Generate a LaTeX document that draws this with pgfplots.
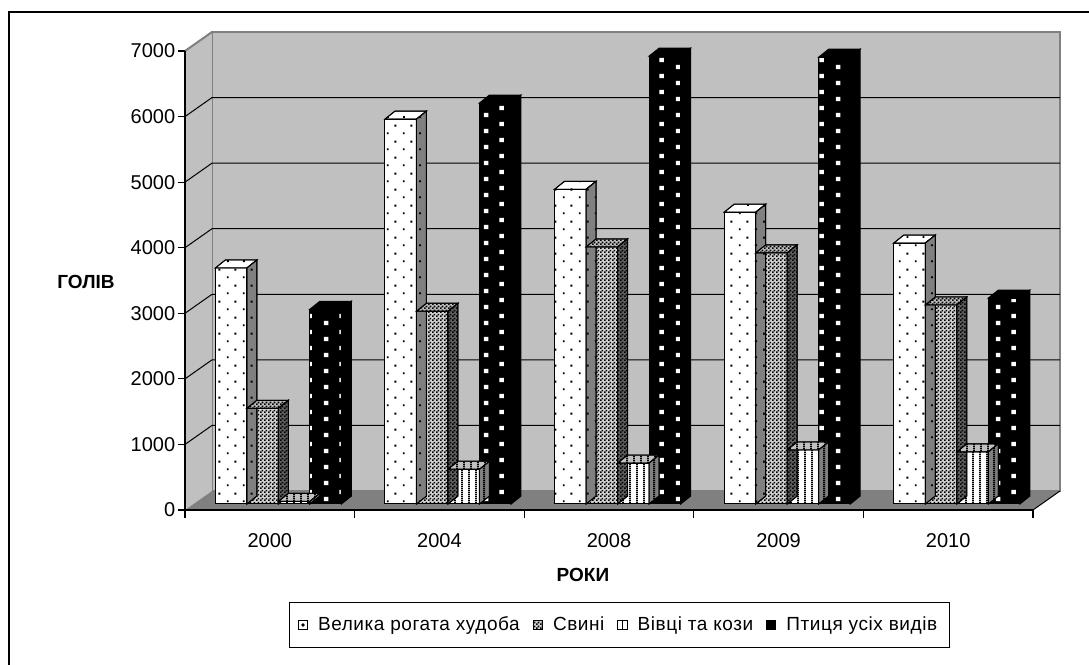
\documentclass[border=0pt]{standalone}
\usepackage{pgfplots}
\usepackage{pgfplotstable}
\pgfplotsset{compat=1.18}
\usetikzlibrary{patterns,patterns.meta}
\usepackage{fontspec}
\setmainfont{Liberation Sans}

\definecolor{wallc}{HTML}{C0C0C0}
\definecolor{floorc}{HTML}{808080}
\definecolor{edgec}{HTML}{808080}
\definecolor{darkc}{HTML}{606060}

\tikzdeclarepattern{name=sdots, bounding box={(0pt,0pt) and (8pt,8pt)}, tile size={(8pt,8pt)},
  code={\fill (1.5pt,1.5pt) rectangle (2.5pt,2.5pt); \fill (5.5pt,5.5pt) rectangle (6.5pt,6.5pt);}}
\tikzdeclarepattern{name=checker, bounding box={(0pt,0pt) and (2pt,2pt)}, tile size={(2pt,2pt)},
  code={\fill (0pt,0pt) rectangle (1pt,1pt); \fill (1pt,1pt) rectangle (2pt,2pt);}}
\tikzdeclarepattern{name=vstripes, bounding box={(0pt,0pt) and (3.4pt,1pt)}, tile size={(3.4pt,1pt)},
  code={\fill (0pt,0pt) rectangle (1pt,1pt);}}
\tikzdeclarepattern{name=wsq, bounding box={(0pt,0pt) and (16pt,8pt)}, tile size={(16pt,8pt)},
  code={\fill (2pt,2pt) rectangle (4.3pt,4.3pt); \fill (10pt,5.7pt) rectangle (12.3pt,8pt);}}

\tikzset{
  bx/.style={draw=black, line width=0.5pt},
  velF/.style={bx, preaction={fill=white}, pattern=sdots, pattern color=black},
  velT/.style={bx, preaction={fill=white}, pattern=sdots, pattern color=black},
  velS/.style={bx, preaction={fill=floorc}, pattern=sdots, pattern color=black},
  svyF/.style={bx, preaction={fill=white!82!black}, pattern=checker, pattern color=black},
  svyT/.style={bx, preaction={fill=wallc}, pattern=checker, pattern color=black},
  svyS/.style={bx, preaction={fill=darkc}, pattern=checker, pattern color=black},
  vivF/.style={bx, preaction={fill=white}, pattern=vstripes, pattern color=black},
  vivT/.style={bx, preaction={fill=wallc}, pattern=vstripes, pattern color=black},
  vivS/.style={bx, preaction={fill=floorc}, pattern=vstripes, pattern color=black},
  ptyF/.style={bx, preaction={fill=black}, pattern=wsq, pattern color=white},
  ptyT/.style={bx, fill=black},
  ptyS/.style={bx, fill=black},
}

% 3D top and side faces drawn at each data point (top centre of the bar front)
\newcommand\declbox[3]{%
  \pgfdeclareplotmark{#1}{%
    \pgfmathsetmacro\hb{4-\rawy*0.0327857}%
    \pgfmathsetmacro\hf{-\rawy*0.0327857}%
    \path[#2] (-7.875pt,0pt) -- (7.875pt,0pt) -- (12.875pt,4pt) -- (-2.875pt,4pt) -- cycle;
    \path[#3] (7.875pt,0pt) -- (12.875pt,4pt) -- (12.875pt,\hb pt) -- (7.875pt,\hf pt) -- cycle;
  }}
\declbox{velbox}{velT}{velS}
\declbox{svybox}{svyT}{svyS}
\declbox{vivbox}{vivT}{vivS}
\declbox{ptybox}{ptyT}{ptyS}

\pgfplotstableread{
x vel svy viv pty
0 3600 1460 40 2970
1 5870 2940 530 6115
2 4800 3920 625 6830
3 4450 3830 825 6815
4 3980 3035 795 3140
}\data

\begin{document}
\begin{tikzpicture}
\path[use as bounding box] (0,0) rectangle (544.5pt,332.5pt);
\draw[line width=1pt] (4.5pt,-10pt) rectangle (560pt,326.5pt);
\begin{axis}[
  at={(92.5pt,77.5pt)}, anchor=south west,
  scale only axis, width=424pt, height=229.5pt,
  xmin=-0.5, xmax=4.5, ymin=0, ymax=7000,
  clip=false, axis on top,
  axis x line*=bottom, axis y line*=left,
  x axis line style={line width=1pt},
  y axis line style={line width=0.6pt},
  xtick={0,1,2,3,4}, xticklabels={2000,2004,2008,2009,2010},
  xtick style={draw=none},
  extra x ticks={-0.5,0.5,1.5,2.5,3.5,4.5},
  extra x tick labels={},
  extra x tick style={major tick length=4pt, xtick style={draw=black, line width=0.6pt}},
  ytick={0,1000,...,7000},
  ytick style={draw=black, line width=0.6pt},
  tick align=outside, major tick length=3.5pt,
  scaled y ticks=false,
  /pgf/number format/.cd, 1000 sep={}, assume math mode=true, /pgfplots/.cd,
  tick label style={font=\fontsize{10}{12}\selectfont},
  yticklabel style={inner sep=1.2pt},
  xticklabel style={yshift=-4.5pt},
  xlabel={РОКИ}, ylabel={ГОЛІВ},
  x label style={at={(axis description cs:0.4693,-0.142)}, anchor=center, font=\fontsize{9.5}{11}\selectfont\bfseries},
  y label style={at={(axis description cs:-0.1167,0.4967)}, anchor=center, rotate=-90, font=\fontsize{9.5}{11}\selectfont\bfseries},
  legend style={at={(axis description cs:0.5124,-0.2505)}, anchor=center, legend columns=4,
    draw=black, line width=0.5pt, inner ysep=5pt, inner xsep=4pt,
    font=\fontsize{9.5}{11}\selectfont\addfontfeature{LetterSpace=3},
    /tikz/every odd column/.append style={column sep=3pt},
    /tikz/every even column/.append style={column sep=4.5pt}},
]
% back wall
\path[fill=wallc, draw=edgec, line width=1pt] ([xshift=13.5pt,yshift=9.5pt]axis cs:-0.5,0) rectangle ([xshift=13.5pt,yshift=9.5pt]axis cs:4.5,7000);
% left wall
\path[fill=wallc] (axis cs:-0.5,0) -- (axis cs:-0.5,7000) -- ([xshift=13.5pt,yshift=9.5pt]axis cs:-0.5,7000) -- ([xshift=13.5pt,yshift=9.5pt]axis cs:-0.5,0) -- cycle;
\draw[edgec, line width=1pt] (axis cs:-0.5,7000) -- ([xshift=13.5pt,yshift=9.5pt]axis cs:-0.5,7000);
% grid lines
\pgfplotsinvokeforeach{1000,2000,3000,4000,5000,6000}{
  \draw[black, line width=0.5pt] (axis cs:-0.5,#1) -- ([xshift=13.5pt,yshift=9.5pt]axis cs:-0.5,#1) -- ([xshift=13.5pt,yshift=9.5pt]axis cs:4.5,#1);
}
% floor
\path[fill=floorc] (axis cs:-0.5,0) -- (axis cs:4.5,0) -- ([xshift=13.5pt,yshift=9.5pt]axis cs:4.5,0) -- ([xshift=13.5pt,yshift=9.5pt]axis cs:-0.5,0) -- cycle;
\draw[black, line width=0.5pt] (axis cs:4.5,0) -- ([xshift=13.5pt,yshift=9.5pt]axis cs:4.5,0);

% bars: front faces, then top/side faces
\addplot[ybar, bar width=15.75pt, bar shift=-23.625pt, xshift=4.3pt, yshift=3pt, velF, forget plot] table[x=x,y=vel] {\data};
\addplot[only marks, mark=velbox, xshift=-19.325pt, yshift=3pt, visualization depends on={y \as \rawy}, forget plot] table[x=x,y=vel] {\data};
\addplot[ybar, bar width=15.75pt, bar shift=-7.875pt, xshift=4.3pt, yshift=3pt, svyF, forget plot] table[x=x,y=svy] {\data};
\addplot[only marks, mark=svybox, xshift=-3.575pt, yshift=3pt, visualization depends on={y \as \rawy}, forget plot] table[x=x,y=svy] {\data};
\addplot[ybar, bar width=15.75pt, bar shift=7.875pt, xshift=4.3pt, yshift=3pt, vivF, forget plot] table[x=x,y=viv] {\data};
\addplot[only marks, mark=vivbox, xshift=12.175pt, yshift=3pt, visualization depends on={y \as \rawy}, forget plot] table[x=x,y=viv] {\data};
\addplot[ybar, bar width=15.75pt, bar shift=23.625pt, xshift=4.3pt, yshift=3pt, ptyF, forget plot] table[x=x,y=pty] {\data};
\addplot[only marks, mark=ptybox, xshift=27.925pt, yshift=3pt, visualization depends on={y \as \rawy}, forget plot] table[x=x,y=pty] {\data};

\addlegendimage{legend image code/.code={\draw[bx, fill=white] (0pt,-2.3pt) rectangle (4.6pt,2.3pt); \fill[black] (2.3pt,0pt) circle (0.6pt);}}
\addlegendentry{Велика рогата худоба}
\addlegendimage{legend image code/.code={\draw[bx, preaction={fill=white!82!black}, pattern=checker, pattern color=black] (0pt,-2.3pt) rectangle (4.6pt,2.3pt);}}
\addlegendentry{Свині}
\addlegendimage{legend image code/.code={\draw[bx, fill=white] (0pt,-2.3pt) rectangle (4.6pt,2.3pt); \draw[black, line width=0.8pt] (2.3pt,-2.3pt) -- (2.3pt,2.3pt);}}
\addlegendentry{Вівці та кози}
\addlegendimage{legend image code/.code={\draw[bx, fill=black] (0pt,-2.3pt) rectangle (4.6pt,2.3pt);}}
\addlegendentry{Птиця усіх видів}
\end{axis}
\end{tikzpicture}
\end{document}
